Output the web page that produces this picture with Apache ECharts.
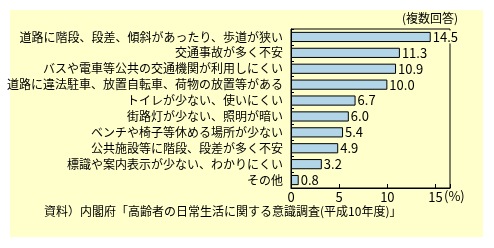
<!DOCTYPE html>
<html><head><meta charset="utf-8">
<script src="https://cdn.jsdelivr.net/npm/echarts@6/dist/echarts.min.js"></script>
<style>html,body{margin:0;padding:0;background:#fff;}#c{width:494px;height:248px;}</style>
</head><body><div id="c"></div>
<script>
const categories = [
  '道路に階段、段差、傾斜があったり、歩道が狭い',
  '交通事故が多く不安',
  'バスや電車等公共の交通機関が利用しにくい',
  '道路に違法駐車、放置自転車、荷物の放置等がある',
  'トイレが少ない、使いにくい',
  '街路灯が少ない、照明が暗い',
  'ベンチや椅子等休める場所が少ない',
  '公共施設等に階段、段差が多く不安',
  '標識や案内表示が少ない、わかりにくい',
  'その他'
];
const values = [14.5, 11.3, 10.9, 10.0, 6.7, 6.0, 5.4, 4.9, 3.2, 0.8];
const xTicks = [0, 5, 10, 15];
const note = '(複数回答)';
const source = '資料）内閣府「高齢者の日常生活に関する意識調査(平成10年度)」';
const unit = '(%)';

const BG = '#FFFFCC';
const FONT = '"Noto Sans CJK JP", sans-serif';
const chart = echarts.init(document.getElementById('c'));
chart.setOption({
  animation: false,
  backgroundColor: '#fff',
  textStyle: { fontFamily: FONT, color: '#000' },
  graphic: [
    { type: 'rect', z: -10, shape: { x: 10, y: 10, width: 473, height: 227 }, style: { fill: BG } },
    { type: 'text', left: 402, top: 12, style: { text: note, font: '12px ' + FONT, fill: '#000' } },
    { type: 'text', left: 44, top: 205, style: { text: source, font: '12px ' + FONT, fill: '#000' } },
    { type: 'text', left: 444, top: 190, style: { text: unit, font: '13px ' + FONT, fill: '#000' } }
  ],
  grid: { left: 291, right: 44, top: 29, height: 159, show: true, borderColor: '#000', borderWidth: 1, backgroundColor: 'transparent' },
  xAxis: {
    type: 'value', min: 0, max: 16.5, interval: 5,
    splitLine: { show: false },
    axisLine: { show: true, lineStyle: { color: '#000', width: 1 } },
    axisTick: { show: true, inside: true, length: 4, lineStyle: { color: '#000' } },
    axisLabel: { color: '#000', fontSize: 13, margin: 3, fontFamily: FONT,
      formatter: v => xTicks.indexOf(v) >= 0 ? String(v) : '' }
  },
  yAxis: {
    type: 'category', data: categories, inverse: true,
    axisLine: { show: true, lineStyle: { color: '#000', width: 1 } },
    axisTick: { show: true, inside: true, length: 3, lineStyle: { color: '#000' } },
    axisLabel: { color: '#000', fontSize: 12, margin: 8, fontFamily: FONT }
  },
  series: [{
    type: 'bar', data: values, barCategoryGap: '36%',
    itemStyle: { color: '#B3D5E8', borderColor: '#000', borderWidth: 1 },
    label: { show: true, position: 'right', distance: 1, color: '#000', fontSize: 13, fontFamily: FONT,
      backgroundColor: BG, padding: [0, 1, 0, 1],
      formatter: p => p.value.toFixed(1) }
  }]
});
</script></body></html>
